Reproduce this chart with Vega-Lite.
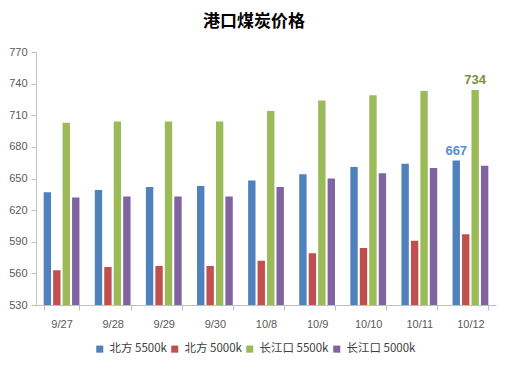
{
  "$schema": "https://vega.github.io/schema/vega-lite/v6.json",
  "width": 460,
  "height": 253,
  "padding": {"left": 8, "top": 13, "right": 14, "bottom": 10},
  "background": "white",
  "title": {"text": "港口煤炭价格", "font": "Noto Sans CJK SC", "fontSize": 17, "fontWeight": "bold", "color": "#000000", "anchor": "middle", "dx": -12, "offset": 15},
  "config": {
    "view": {"stroke": null},
    "font": "Noto Sans CJK SC"
  },
  "data": {"values": [
    {"date": "9/27", "series": "北方 5500k", "value": 637},
    {"date": "9/27", "series": "北方 5000k", "value": 563},
    {"date": "9/27", "series": "长江口 5500k", "value": 703},
    {"date": "9/27", "series": "长江口 5000k", "value": 632},
    {"date": "9/28", "series": "北方 5500k", "value": 639},
    {"date": "9/28", "series": "北方 5000k", "value": 566},
    {"date": "9/28", "series": "长江口 5500k", "value": 704},
    {"date": "9/28", "series": "长江口 5000k", "value": 633},
    {"date": "9/29", "series": "北方 5500k", "value": 642},
    {"date": "9/29", "series": "北方 5000k", "value": 567},
    {"date": "9/29", "series": "长江口 5500k", "value": 704},
    {"date": "9/29", "series": "长江口 5000k", "value": 633},
    {"date": "9/30", "series": "北方 5500k", "value": 643},
    {"date": "9/30", "series": "北方 5000k", "value": 567},
    {"date": "9/30", "series": "长江口 5500k", "value": 704},
    {"date": "9/30", "series": "长江口 5000k", "value": 633},
    {"date": "10/8", "series": "北方 5500k", "value": 648},
    {"date": "10/8", "series": "北方 5000k", "value": 572},
    {"date": "10/8", "series": "长江口 5500k", "value": 714},
    {"date": "10/8", "series": "长江口 5000k", "value": 642},
    {"date": "10/9", "series": "北方 5500k", "value": 654},
    {"date": "10/9", "series": "北方 5000k", "value": 579},
    {"date": "10/9", "series": "长江口 5500k", "value": 724},
    {"date": "10/9", "series": "长江口 5000k", "value": 650},
    {"date": "10/10", "series": "北方 5500k", "value": 661},
    {"date": "10/10", "series": "北方 5000k", "value": 584},
    {"date": "10/10", "series": "长江口 5500k", "value": 729},
    {"date": "10/10", "series": "长江口 5000k", "value": 655},
    {"date": "10/11", "series": "北方 5500k", "value": 664},
    {"date": "10/11", "series": "北方 5000k", "value": 591},
    {"date": "10/11", "series": "长江口 5500k", "value": 733},
    {"date": "10/11", "series": "长江口 5000k", "value": 660},
    {"date": "10/12", "series": "北方 5500k", "value": 667, "label": "667"},
    {"date": "10/12", "series": "北方 5000k", "value": 597},
    {"date": "10/12", "series": "长江口 5500k", "value": 734, "label": "734"},
    {"date": "10/12", "series": "长江口 5000k", "value": 662}
  ]},
  "encoding": {
    "x": {
      "field": "date", "type": "nominal", "sort": null,
      "scale": {"paddingInner": 0.3, "paddingOuter": 0.15},
      "axis": {"title": null, "labelAngle": 0, "labelFontSize": 11, "labelColor": "#595959", "labelFont": "Liberation Sans", "domainColor": "#BFBFBF", "tickColor": "#BFBFBF", "tickBand": "extent", "tickSize": 5, "labelPadding": 8}
    },
    "xOffset": {"field": "series", "type": "nominal", "sort": ["北方 5500k", "北方 5000k", "长江口 5500k", "长江口 5000k"], "scale": {"paddingInner": 0.22}},
    "y": {
      "field": "value", "type": "quantitative",
      "scale": {"domain": [530, 770], "nice": false, "zero": false},
      "axis": {"title": null, "values": [530, 560, 590, 620, 650, 680, 710, 740, 770], "grid": false, "labelFontSize": 11, "labelColor": "#595959", "labelFont": "Liberation Sans", "domainColor": "#BFBFBF", "tickColor": "#BFBFBF", "tickSize": 5, "labelPadding": 4}
    }
  },
  "layer": [
    {
      "mark": {"type": "bar", "clip": true},
      "encoding": {
        "color": {
          "field": "series", "type": "nominal",
          "scale": {"domain": ["北方 5500k", "北方 5000k", "长江口 5500k", "长江口 5000k"], "range": ["#4F81BD", "#C0504D", "#9BBB59", "#8064A2"]},
          "legend": {"title": null, "orient": "none", "legendX": 58, "legendY": 291, "direction": "horizontal", "symbolType": "square", "symbolSize": 50, "symbolStrokeWidth": 0, "labelFontSize": 11.5, "labelOffset": 4, "labelColor": "#404040", "columnPadding": 2}
        }
      }
    },
    {
      "transform": [{"filter": "datum.label != null"}],
      "mark": {"type": "text", "baseline": "bottom", "dy": -3, "fontWeight": "bold", "fontSize": 13, "font": "Liberation Sans"},
      "encoding": {
        "text": {"field": "label"},
        "color": {"condition": {"test": "datum.series === '北方 5500k'", "value": "#558ED5"}, "value": "#77933C"}
      }
    }
  ]
}
